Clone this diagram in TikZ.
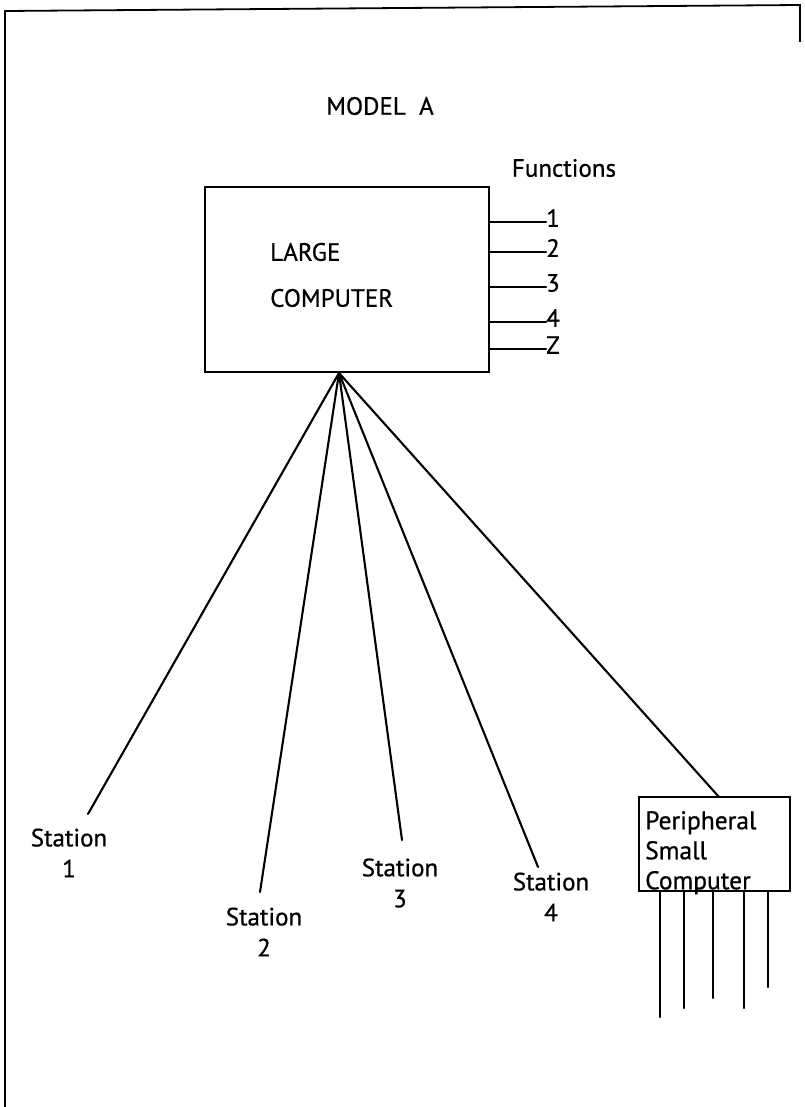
\documentclass[tikz,border=0pt]{standalone}
\usepackage{fontspec}
\setmainfont{PT Sans}[FakeBold=0.7]
\begin{document}
\begin{tikzpicture}[x=1pt,y=-1pt,
  ln/.style={line width=2.1pt, line cap=round},
  frame/.style={line width=1.8pt},
  lbl/.style={inner sep=0pt, font=\fontsize{25}{30}\selectfont},
  stn/.style={inner sep=0pt, align=center, font=\fontsize{25}{31}\selectfont},
  fn/.style={inner sep=0pt, anchor=west, font=\fontsize{25}{30}\selectfont}]
\useasboundingbox (0,0) rectangle (804,1107);

% page frame
\draw[frame] (5,1107) -- (5,11) -- (800,5) -- (800,42);

% title
\node[lbl] (title) at (380,106) {MODEL\ \ A};

% central machine
\draw[ln] (205,187) rectangle (489,372);
\coordinate (hub) at (339,373);
\node[lbl, anchor=west] (lc1) at (270,252) {LARGE};
\node[lbl, anchor=west] (lc2) at (270,298) {COMPUTER};

% function outputs
\node[lbl] (fnhead) at (564,168) {Functions};
\foreach \y/\t/\n in {222/1/a, 252/2/b, 287/3/c, 322/4/d, 349/Z/e} {
  \coordinate (f\n) at (489,\y);
  \node[fn] (fl\n) at (546,\y-4) {\t};
  \draw[ln] (f\n) -- (f\n -| fl\n.west);
}

% stations
\node[stn] (st1) at (69,853) {Station\\1};
\node[stn] (st2) at (264,932) {Station\\2};
\node[stn] (st3) at (400,883) {Station\\3};
\node[stn] (st4) at (551,897) {Station\\4};
\coordinate (e1) at (88,814);
\coordinate (e2) at (260,892);
\coordinate (e3) at (402,840);
\coordinate (e4) at (538,867);
\foreach \e in {e1,e2,e3,e4} \draw[ln] (hub) -- (\e);

% peripheral computer
\draw[ln] (639,797) rectangle (790,891);
\coordinate (ptop) at (719,797);
\node[inner sep=0pt, anchor=north west, align=left,
      font=\fontsize{25.5}{30}\selectfont] (per) at (645,811)
      {Peripheral\\Small\\Computer};
\draw[ln] (hub) -- (ptop);
\foreach \x/\b/\n in {660/1017/a, 684/1008/b, 713/998/c, 744/1008/d, 768/987/e} {
  \coordinate (pt\n) at (\x,891);
  \coordinate (pb\n) at (\x,\b);
  \draw[ln] (pt\n) -- (pb\n);
}
\end{tikzpicture}
\end{document}
